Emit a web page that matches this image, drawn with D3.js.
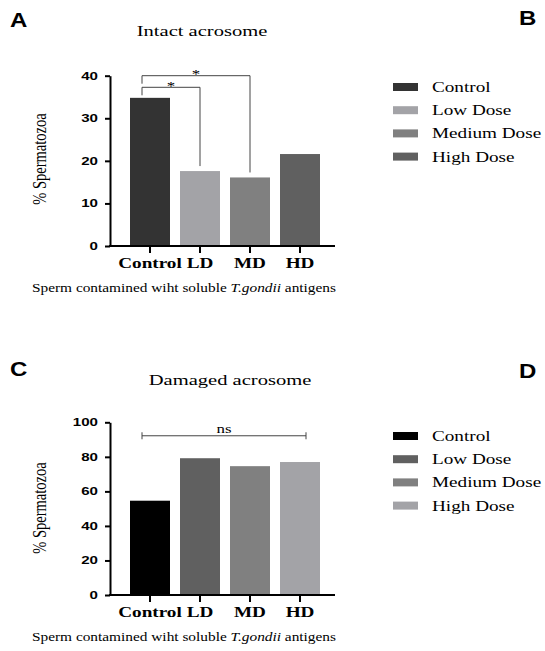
<!DOCTYPE html>
<html>
<head>
<meta charset="utf-8">
<script src="https://cdn.jsdelivr.net/npm/d3@7"></script>
<style>
body { margin: 0; background: #fff; }
</style>
</head>
<body>
<svg id="fig" width="545" height="651"></svg>
<script>

// data
const groups = ["Control", "LD", "MD", "HD"];
const doseNames = ["Control", "Low Dose", "Medium Dose", "High Dose"];
const intactValues = [34.8, 17.6, 16.1, 21.6];
const damagedValues = [54.6, 79.2, 74.6, 77.0];
const intactTicks = [0, 10, 20, 30, 40];
const damagedTicks = [0, 20, 40, 60, 80, 100];
const intactColors = ["#333333", "#a3a3a7", "#808080", "#606060"];
const damagedColors = ["#000000", "#606060", "#808080", "#a3a3a7"];
const intactSig = [["Control", "LD", "*"], ["Control", "MD", "*"]];
const damagedSig = [["Control", "HD", "ns"]];

const SX = 1.37; // the picture is stretched sideways
const serif = "'Liberation Serif', 'Times New Roman', serif";
const sans = "'Liberation Sans', Arial, sans-serif";

let svg = d3.select("#fig");
svg.append("rect").attr("width", 545).attr("height", 651).attr("fill", "#fff");

function addText(g, x, y, str, size, family, weight, anchor, sx){
	return g.append("text")
		.attr("transform", "translate(" + x + "," + y + ") scale(" + (sx || SX) + ",1)")
		.attr("text-anchor", anchor || "start")
		.attr("font-family", family)
		.attr("font-weight", weight || "normal")
		.attr("font-size", size)
		.attr("fill", "#000")
		.text(str);
}

function drawPanel(p){

	let g = svg.append("g");

	let x = d3.scaleBand()
		.domain(groups)
		.range([125, 325])
		.paddingInner(0.2)
		.paddingOuter(0.1);

	let y = d3.scaleLinear()
		.domain([0, p.ticks[p.ticks.length - 1]])
		.range([p.y0, p.y0 - p.h]);

	//bars
	g.selectAll(".bar")
		.data(p.values)
		.enter()
		.append("rect")
		.attr("x", (d, i) => x(groups[i]))
		.attr("y", d => y(d))
		.attr("width", x.bandwidth())
		.attr("height", d => y(0) - y(d))
		.attr("fill", (d, i) => p.colors[i]);

	//y axis
	let yAx = g.append("g")
		.attr("transform", "translate(110,0)")
		.call(d3.axisLeft(y).tickValues(p.ticks).tickSize(5).tickSizeOuter(0));
	yAx.select(".domain").attr("stroke-width", 2);
	yAx.selectAll(".tick line").attr("stroke-width", 2);
	yAx.selectAll(".tick text")
		.attr("x", null)
		.attr("transform", "translate(-12,0) scale(" + SX + ",1)")
		.attr("font-family", sans)
		.attr("font-weight", "bold")
		.attr("font-size", 11)
		.attr("fill", "#000");

	//x axis
	g.append("line")
		.attr("x1", 109)
		.attr("x2", 335)
		.attr("y1", p.y0)
		.attr("y2", p.y0)
		.attr("stroke", "#000")
		.attr("stroke-width", 2);

	let xAx = g.append("g")
		.attr("transform", "translate(0," + p.y0 + ")")
		.call(d3.axisBottom(x).tickSize(7).tickSizeOuter(0));
	xAx.select(".domain").remove();
	xAx.selectAll(".tick line").attr("stroke-width", 2);
	xAx.selectAll(".tick text")
		.attr("y", null)
		.attr("dy", null)
		.attr("transform", "translate(0,22) scale(" + SX + ",1)")
		.attr("font-family", serif)
		.attr("font-weight", "bold")
		.attr("font-size", 14)
		.attr("fill", "#000");

	//titles
	addText(g, p.titleX, p.y0 - 210, p.title, 15, serif, "normal", "middle");
	addText(g, 10, p.y0 - 219, p.letters[0], 20, sans, "bold", "start", 1.2);
	addText(g, 519, p.y0 - 221 + p.dShift, p.letters[1], 20, sans, "bold", "start", 1.2);

	let xt = addText(g, 32, p.y0 + 46, "Sperm contamined wiht soluble ", 12, serif, "normal", "start", 1.28);
	xt.append("tspan").attr("font-style", "italic").text("T.gondii");
	xt.append("tspan").text(" antigens");

	g.append("text")
		.attr("transform", "translate(46," + (p.y0 - 87) + ") rotate(-90) scale(1," + SX + ")")
		.attr("text-anchor", "middle")
		.attr("font-family", serif)
		.attr("font-size", 14.5)
		.attr("fill", "#000")
		.text("% Spermatozoa");

	//significance
	p.sig.forEach((s, i) => {
		let left = x(s[0]) + x.bandwidth() * 0.3;
		let right, ly;
		if (s[2] == "ns") {
			right = x(s[1]) + x.bandwidth() * 0.65;
			ly = y(92.2);
			g.append("path")
				.attr("d", "M" + left + "," + (ly - 3.5) + "V" + (ly + 3.5) + "M" + left + "," + ly + "H" + right + "M" + right + "," + (ly - 3.5) + "V" + (ly + 3.5))
				.attr("fill", "none")
				.attr("stroke", "#444")
				.attr("stroke-width", 1);
			addText(g, (left + right) / 2, ly - 3, s[2], 13, serif, "normal", "middle", 1.3);
		} else {
			right = x(s[1]) + x.bandwidth() / 2;
			ly = y.range()[1] + (p.sig.length - 1 - i) * 11.6;
			let yEnd = y(p.values[groups.indexOf(s[1])]) - 5;
			g.append("path")
				.attr("d", "M" + left + "," + (ly + 8) + "V" + ly + "H" + right + "V" + yEnd)
				.attr("fill", "none")
				.attr("stroke", "#444")
				.attr("stroke-width", 1);
			addText(g, (left + right) / 2, ly + 2.5, s[2], 13, serif, "normal", "middle", 1.3);
		}
	});

	//legend
	let leg = g.append("g");
	doseNames.forEach((name, i) => {
		let cy = p.y0 - 159 + i * 23.2;
		leg.append("rect")
			.attr("x", 393)
			.attr("y", cy - 4)
			.attr("width", 25)
			.attr("height", 8)
			.attr("fill", p.colors[i]);
		addText(leg, 432, cy + 5, name, 14, serif, "normal", "start");
	});
}

drawPanel({
	y0: 246, h: 170.3, values: intactValues, ticks: intactTicks, colors: intactColors,
	sig: intactSig, title: "Intact acrosome", titleX: 202, letters: ["A", "B"], dShift: 0
});

drawPanel({
	y0: 595, h: 172.7, values: damagedValues, ticks: damagedTicks, colors: damagedColors,
	sig: damagedSig, title: "Damaged acrosome", titleX: 230, letters: ["C", "D"], dShift: 4
});

</script>
</body>
</html>
